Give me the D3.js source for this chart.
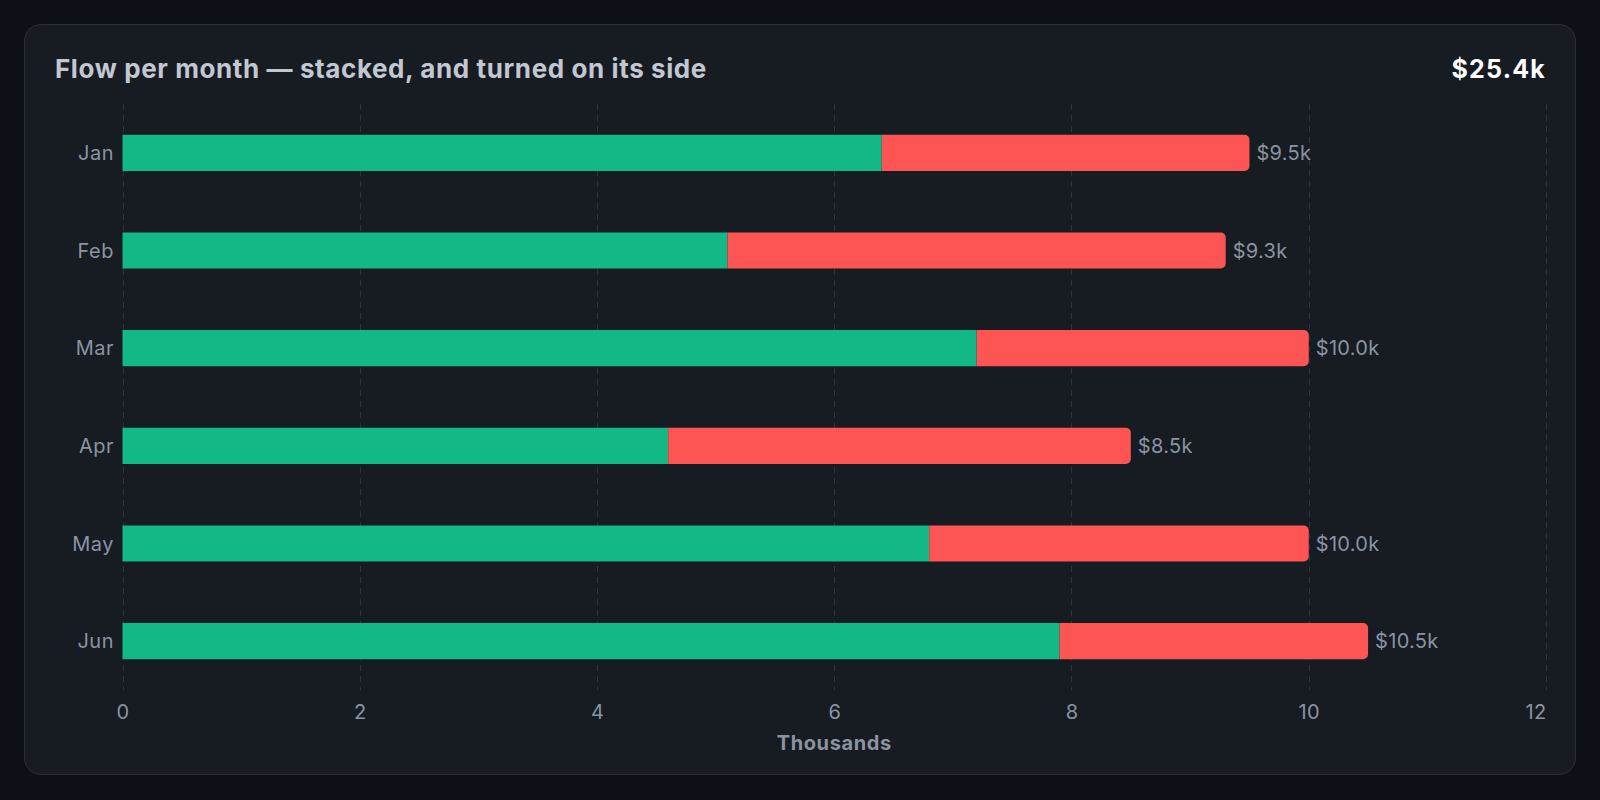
<!DOCTYPE html>
<html>
<head>
<meta charset="utf-8">
<script src="https://cdn.jsdelivr.net/npm/d3@7"></script>
<style>
  html, body { margin: 0; padding: 0; background: #0d1117; }
  svg { display: block; }
</style>
</head>
<body>
<svg id="chart" width="1600" height="800"></svg>
<script>
const months = ["Jan", "Feb", "Mar", "Apr", "May", "Jun"];
const inflow = [6.4, 5.1, 7.2, 4.6, 6.8, 7.9];
const outflow = [3.1, 4.2, 2.8, 3.9, 3.2, 2.6];
const totalLabels = ["$9.5k", "$9.3k", "$10.0k", "$8.5k", "$10.0k", "$10.5k"];
const xTicks = [0, 2, 4, 6, 8, 10, 12];
const titleText = "Flow per month — stacked, and turned on its side";
const headlineValue = "$25.4k";
const axisTitle = "Thousands";

const W = 1600, H = 800;
const font = "Inter, 'Noto Sans', 'DejaVu Sans', sans-serif";
const svg = d3.select("#chart");

svg.append("rect").attr("width", W).attr("height", H).attr("fill", "#0d1117");
svg.append("rect")
  .attr("x", 24.5).attr("y", 24.5).attr("width", 1551).attr("height", 750)
  .attr("rx", 16).attr("fill", "#171b22").attr("stroke", "#2a2f38").attr("stroke-width", 1);

svg.append("text").attr("x", 55).attr("y", 78)
  .attr("font-family", font).attr("font-size", 26).attr("font-weight", 700)
  .attr("letter-spacing", "0.6px")
  .attr("fill", "#c2c8d1").text(titleText);
svg.append("text").attr("x", 1546).attr("y", 78).attr("text-anchor", "end")
  .attr("font-family", font).attr("font-size", 25).attr("font-weight", 700)
  .attr("letter-spacing", "1.2px")
  .attr("fill", "#ffffff").text(headlineValue);

const x = d3.scaleLinear().domain([0, 12]).range([122.5, 1546]);
const y = d3.scaleBand().domain(months).range([104, 690]).paddingInner(0.63).paddingOuter(0.315);

const data = months.map((m, i) => ({ month: m, inflow: inflow[i], outflow: outflow[i], label: totalLabels[i] }));
const stack = d3.stack().keys(["inflow", "outflow"]);
const series = stack(data);
const colors = { inflow: "#12b886", outflow: "#fd5454" };

// grid
svg.append("g").selectAll("line").data(xTicks).join("line")
  .attr("x1", d => Math.round(x(d)) + 0.5).attr("x2", d => Math.round(x(d)) + 0.5)
  .attr("y1", 104).attr("y2", 690)
  .attr("stroke", "#2e333c").attr("stroke-width", 1).attr("stroke-dasharray", "6,5");

function rightRounded(x0, y0, w, h, r) {
  r = Math.min(r, w, h / 2);
  const p = d3.path();
  p.moveTo(x0, y0);
  p.lineTo(x0 + w - r, y0);
  if (r > 0) p.arcTo(x0 + w, y0, x0 + w, y0 + r, r);
  p.lineTo(x0 + w, y0 + h - r);
  if (r > 0) p.arcTo(x0 + w, y0 + h, x0 + w - r, y0 + h, r);
  p.lineTo(x0, y0 + h);
  p.closePath();
  return p.toString();
}

series.forEach((s, si) => {
  const last = si === series.length - 1;
  svg.append("g").selectAll("path").data(s).join("path")
    .attr("fill", colors[s.key])
    .attr("d", d => {
      const x0 = x(d[0]), x1 = x(d[1]);
      const yy = y(d.data.month), h = y.bandwidth();
      return rightRounded(x0, yy, x1 - x0, h, last ? 5 : 0);
    });
});

const labelColor = "#8b94a1";

// total labels
svg.append("g").selectAll("text").data(data).join("text")
  .attr("x", d => x(d.inflow + d.outflow) + 7)
  .attr("y", d => y(d.month) + y.bandwidth() / 2)
  .attr("dy", "0.35em")
  .attr("font-family", font).attr("font-size", 20).attr("letter-spacing", "0.3px")
  .attr("fill", labelColor)
  .text(d => d.label);

// month labels
svg.append("g").selectAll("text").data(months).join("text")
  .attr("x", 114).attr("y", d => y(d) + y.bandwidth() / 2)
  .attr("dy", "0.35em").attr("text-anchor", "end")
  .attr("font-family", font).attr("font-size", 20).attr("letter-spacing", "0.5px")
  .attr("fill", labelColor)
  .text(d => d);

// x axis tick labels
const xAxis = d3.axisBottom(x).tickValues(xTicks).tickSize(0).tickPadding(0).tickFormat(d3.format("d"));
const gx = svg.append("g").attr("transform", "translate(0,706)").call(xAxis);
gx.select(".domain").remove();
gx.selectAll("text")
  .attr("font-family", font).attr("font-size", 20).attr("letter-spacing", "0.3px")
  .attr("fill", labelColor)
  .attr("dy", "0.35em").attr("y", 6)
  .attr("text-anchor", (d, i) => i === xTicks.length - 1 ? "end" : "middle");

svg.append("text").attr("x", (x(0) + x(12)) / 2).attr("y", 750).attr("text-anchor", "middle")
  .attr("font-family", font).attr("font-size", 20).attr("font-weight", 700)
  .attr("letter-spacing", "0.6px")
  .attr("fill", labelColor).text(axisTitle);
</script>
</body>
</html>
